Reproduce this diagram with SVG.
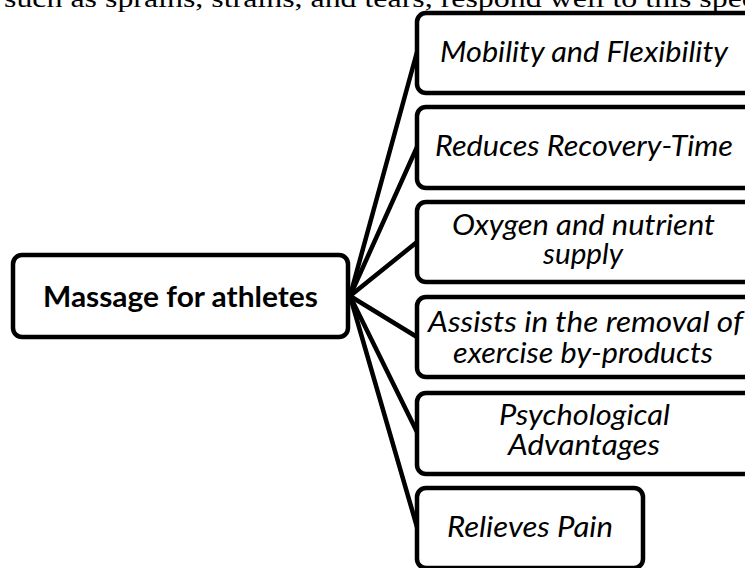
<svg xmlns="http://www.w3.org/2000/svg" width="745" height="568" viewBox="0 0 745 568">
<style>
.box{fill:#fff;stroke:#000;stroke-width:4.5}
.lbl{font-family:Lato,"Open Sans","Liberation Sans",sans-serif;font-size:28px;font-style:italic;fill:#000;text-anchor:middle}
.main{font-family:Lato,"Open Sans","Liberation Sans",sans-serif;font-size:29px;font-weight:bold;fill:#000;text-anchor:middle}
.top{font-family:"Liberation Serif",serif;font-size:26px;fill:#000}
.conn{stroke:#000;stroke-width:4.5;fill:none;stroke-linecap:round}
</style>
<rect width="745" height="568" fill="#fff"/>
<text class="top" x="4" y="7" textLength="752" lengthAdjust="spacingAndGlyphs">such as sprains, strains, and tears, respond well to this spec</text>
<g id="connectors">
<line class="conn" x1="350" y1="296" x2="417" y2="52"/>
<line class="conn" x1="350" y1="296" x2="417" y2="147"/>
<line class="conn" x1="350" y1="296" x2="417" y2="242"/>
<line class="conn" x1="350" y1="296" x2="417" y2="337"/>
<line class="conn" x1="350" y1="296" x2="417" y2="432"/>
<line class="conn" x1="350" y1="296" x2="417" y2="527"/>
</g>
<g id="main">
<rect class="box" x="13" y="255" width="335" height="82" rx="9"/>
<text class="main" x="180.5" y="307" textLength="275" lengthAdjust="spacingAndGlyphs">Massage for athletes</text>
</g>
<g id="n1">
<rect class="box" x="417" y="13" width="336" height="80" rx="9"/>
<text class="lbl" x="584" y="62" textLength="288" lengthAdjust="spacingAndGlyphs">Mobility and Flexibility</text>
</g>
<g id="n2">
<rect class="box" x="417" y="107" width="336" height="81" rx="9"/>
<text class="lbl" x="584" y="156" textLength="298" lengthAdjust="spacingAndGlyphs">Reduces Recovery-Time</text>
</g>
<g id="n3">
<rect class="box" x="417" y="202" width="336" height="80" rx="9"/>
<text class="lbl" x="583.5" y="235" textLength="263" lengthAdjust="spacingAndGlyphs">Oxygen and nutrient</text>
<text class="lbl" x="583" y="264" textLength="80" lengthAdjust="spacingAndGlyphs">supply</text>
</g>
<g id="n4">
<rect class="box" x="417" y="297" width="336" height="80" rx="9"/>
<text class="lbl" x="585.5" y="332" textLength="315" lengthAdjust="spacingAndGlyphs">Assists in the removal of</text>
<text class="lbl" x="583" y="363" textLength="260" lengthAdjust="spacingAndGlyphs">exercise by-products</text>
</g>
<g id="n5">
<rect class="box" x="417" y="393" width="336" height="81" rx="9"/>
<text class="lbl" x="584.5" y="425" textLength="171" lengthAdjust="spacingAndGlyphs">Psychological</text>
<text class="lbl" x="584" y="455" textLength="152" lengthAdjust="spacingAndGlyphs">Advantages</text>
</g>
<g id="n6">
<rect class="box" x="417" y="488" width="226" height="80" rx="9"/>
<text class="lbl" x="530" y="537" textLength="166" lengthAdjust="spacingAndGlyphs">Relieves Pain</text>
</g>
</svg>
